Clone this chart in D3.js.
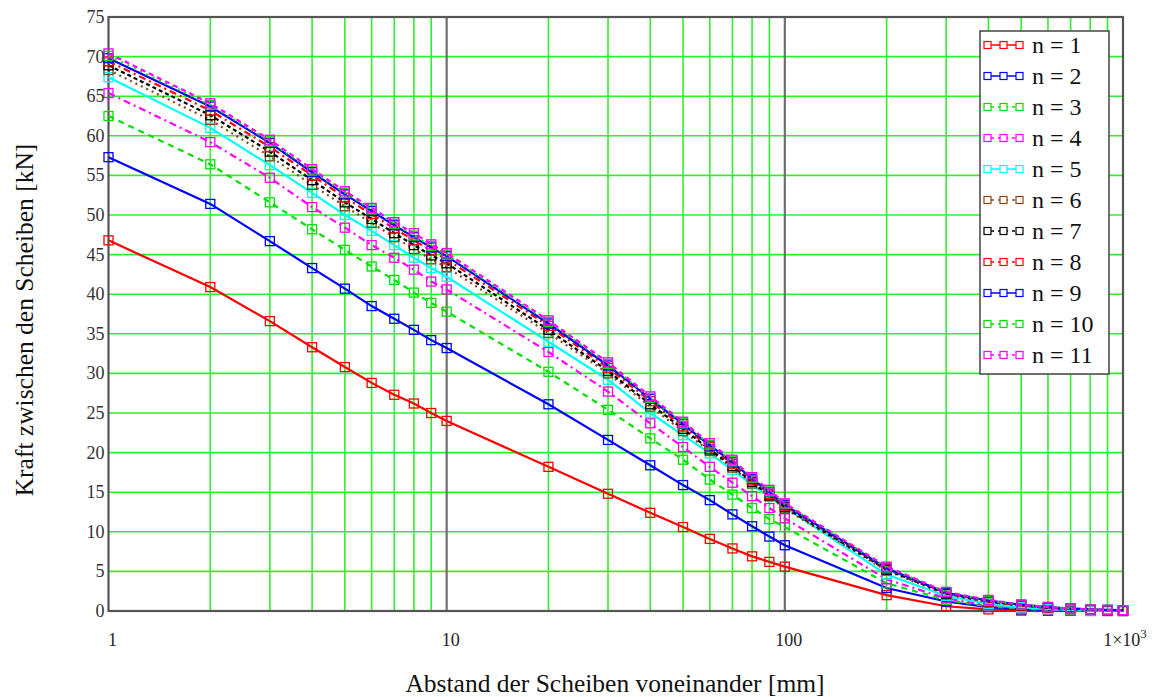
<!DOCTYPE html>
<html>
<head>
<meta charset="utf-8">
<script src="https://cdn.jsdelivr.net/npm/d3@7"></script>
<style>
  body { margin: 0; background: #fff; }
</style>
</head>
<body>
<div id="chart"></div>
<script>
// Abstand (mm) – Messpunkte
var distances = [1, 2, 3, 4, 5, 6, 7, 8, 9, 10, 20, 30, 40, 50, 60, 70, 80, 90,
  100, 200, 300, 400, 500, 600, 700, 800, 900, 1000];

// Kraft (kN) je Anzahl n
var n1 = [46.8, 40.9, 36.6, 33.3, 30.8, 28.8, 27.3, 26.2, 25.0, 24.0, 18.2, 14.8, 12.4, 10.6, 9.1, 7.9, 6.9, 6.2, 5.6, 2.0, 0.6, 0.2, 0.05, 0.02, 0.01, 0, 0, 0];
var n2 = [57.3, 51.4, 46.7, 43.3, 40.7, 38.5, 36.9, 35.5, 34.2, 33.2, 26.1, 21.6, 18.4, 15.9, 14.0, 12.2, 10.7, 9.4, 8.3, 2.9, 1.2, 0.5, 0.2, 0.1, 0.05, 0.02, 0.01, 0];
var n3 = [62.5, 56.4, 51.6, 48.2, 45.6, 43.5, 41.8, 40.2, 38.9, 37.8, 30.2, 25.4, 21.8, 19.1, 16.6, 14.7, 13.0, 11.6, 10.6, 3.5, 1.4, 0.6, 0.3, 0.15, 0.08, 0.04, 0.02, 0.01];
var n4 = [65.4, 59.2, 54.7, 51.0, 48.4, 46.2, 44.6, 43.1, 41.6, 40.6, 32.7, 27.7, 23.7, 20.7, 18.2, 16.2, 14.5, 13.0, 11.7, 4.0, 1.6, 0.7, 0.35, 0.2, 0.1, 0.06, 0.03, 0.02];
var n5 = [67.4, 61.0, 56.3, 52.8, 50.0, 48.0, 46.2, 44.6, 43.3, 42.2, 34.0, 29.2, 25.0, 22.2, 19.9, 17.8, 16.0, 14.4, 13.1, 4.6, 1.9, 0.9, 0.45, 0.25, 0.15, 0.08, 0.05, 0.03];
var n6 = [68.3, 62.0, 57.4, 53.8, 51.1, 49.0, 47.2, 45.7, 44.4, 43.4, 35.1, 30.0, 25.8, 22.7, 20.2, 18.1, 16.1, 14.5, 12.9, 5.1, 2.1, 1.1, 0.7, 0.4, 0.2, 0.15, 0.1, 0.1];
var n7 = [68.9, 62.6, 58.0, 54.4, 51.6, 49.5, 47.7, 46.2, 44.9, 43.9, 35.5, 30.3, 26.1, 23.0, 20.4, 18.3, 16.3, 14.6, 13.1, 5.2, 2.2, 1.2, 0.7, 0.4, 0.3, 0.2, 0.1, 0.1];
var n8 = [69.4, 63.2, 58.6, 55.0, 52.2, 50.1, 48.3, 46.8, 45.5, 44.4, 36.0, 30.7, 26.5, 23.3, 20.7, 18.6, 16.5, 14.8, 13.3, 5.3, 2.3, 1.2, 0.7, 0.4, 0.3, 0.2, 0.1, 0.1];
var n9 = [69.8, 63.7, 59.1, 55.4, 52.6, 50.5, 48.7, 47.2, 45.9, 44.8, 36.3, 31.0, 26.8, 23.6, 20.9, 18.8, 16.7, 15.0, 13.4, 5.4, 2.3, 1.3, 0.8, 0.5, 0.3, 0.2, 0.15, 0.1];
var n10 = [70.1, 63.9, 59.3, 55.6, 52.8, 50.7, 48.9, 47.4, 46.1, 45.0, 36.5, 31.2, 26.9, 23.7, 21.0, 18.9, 16.8, 15.1, 13.5, 5.5, 2.4, 1.3, 0.8, 0.5, 0.3, 0.2, 0.15, 0.1];
var n11 = [70.4, 64.1, 59.5, 55.8, 53.0, 50.9, 49.1, 47.7, 46.3, 45.2, 36.7, 31.4, 27.1, 23.9, 21.2, 19.1, 16.9, 15.3, 13.6, 5.6, 2.4, 1.4, 0.8, 0.5, 0.3, 0.2, 0.15, 0.1];

var seriesNames = ["n = 1", "n = 2", "n = 3", "n = 4", "n = 5", "n = 6", "n = 7", "n = 8", "n = 9", "n = 10", "n = 11"];
var seriesValues = [n1, n2, n3, n4, n5, n6, n7, n8, n9, n10, n11];
var seriesColors = ["#ff0000", "#0000ff", "#00e000", "#ff00ff", "#00ffff", "#8b4513", "#000000", "#ff0000", "#0000ff", "#00e000", "#ff00ff"];
var seriesDash = ["none", "none", "6,5", "7,4,2,4", "none", "2,4", "4,3", "7,4,2,4", "none", "2,5", "5,4"];

var yTicks = d3.range(0, 76, 5);
var xTicks = [1, 10, 100, 1000];
var xTickLabels = ["1", "10", "100", "1\u00d710"];

var width = 1161,
  height = 697,
  margin = { top: 17, right: 38, bottom: 86, left: 108.5 };

var serif = "'Liberation Serif', 'Times New Roman', 'DejaVu Serif', serif";

var svg = d3.select("#chart")
  .append("svg")
  .attr("width", width)
  .attr("height", height)
  .attr("font-family", serif);

var x = d3.scaleLog()
  .domain([1, 1000])
  .range([margin.left, width - margin.right]);

var y = d3.scaleLinear()
  .domain([0, 75])
  .range([height - margin.bottom, margin.top]);

// Gitterlinien
var minorX = [];
[1, 10, 100].forEach(function (dec) {
  for (var k = 2; k <= 9; k++) minorX.push(dec * k);
});

svg.append("g")
  .selectAll("line")
  .data(minorX)
  .enter()
  .append("line")
  .attr("x1", function (d) { return x(d); })
  .attr("x2", function (d) { return x(d); })
  .attr("y1", y(0))
  .attr("y2", y(75))
  .style("stroke", "#2ef02e")
  .style("stroke-width", 1.6);

svg.append("g")
  .selectAll("line")
  .data(yTicks.slice(1, -1))
  .enter()
  .append("line")
  .attr("x1", x(1))
  .attr("x2", x(1000))
  .attr("y1", function (d) { return y(d); })
  .attr("y2", function (d) { return y(d); })
  .style("stroke", "#2ef02e")
  .style("stroke-width", 1.6);

svg.append("g")
  .selectAll("line")
  .data([10, 100])
  .enter()
  .append("line")
  .attr("x1", function (d) { return x(d); })
  .attr("x2", function (d) { return x(d); })
  .attr("y1", y(0))
  .attr("y2", y(75))
  .style("stroke", "#6e6e6e")
  .style("stroke-width", 2.2);

// Rahmen
svg.append("rect")
  .attr("x", x(1))
  .attr("y", y(75))
  .attr("width", x(1000) - x(1))
  .attr("height", y(0) - y(75))
  .style("fill", "none")
  .style("stroke", "#555")
  .style("stroke-width", 2.2);

// Kurven
var line = d3.line()
  .x(function (d) { return x(d[0]); })
  .y(function (d) { return y(d[1]); });

seriesValues.forEach(function (vals, i) {
  var pts = distances.map(function (d, j) { return [d, vals[j]]; });
  var g = svg.append("g");
  g.append("path")
    .datum(pts)
    .attr("d", line)
    .style("fill", "none")
    .style("stroke", seriesColors[i])
    .style("stroke-width", 2.2)
    .style("stroke-dasharray", seriesDash[i]);
  g.selectAll("rect")
    .data(pts)
    .enter()
    .append("rect")
    .attr("x", function (d) { return x(d[0]) - 4.5; })
    .attr("y", function (d) { return y(d[1]) - 4.5; })
    .attr("width", 9)
    .attr("height", 9)
    .style("fill", "none")
    .style("stroke", seriesColors[i])
    .style("stroke-width", 1.3);
});

// Achsenbeschriftung
svg.append("g")
  .selectAll("text")
  .data(yTicks)
  .enter()
  .append("text")
  .attr("x", x(1) - 4)
  .attr("y", function (d) { return y(d) + 6; })
  .attr("text-anchor", "end")
  .attr("font-size", 18)
  .attr("fill", "#333")
  .text(function (d) { return d; });

var xt = svg.append("g")
  .selectAll("text")
  .data(xTicks)
  .enter()
  .append("text")
  .attr("x", function (d) { return x(d) + 4; })
  .attr("y", 646)
  .attr("text-anchor", "middle")
  .attr("font-size", 18)
  .attr("fill", "#222")
  .text(function (d, i) { return xTickLabels[i]; });
xt.filter(function (d) { return d === 1000; })
  .attr("x", x(1000) + 2)
  .append("tspan")
  .attr("dy", -8)
  .attr("font-size", 13)
  .text("3");

svg.append("text")
  .attr("x", 615)
  .attr("y", 692)
  .attr("text-anchor", "middle")
  .attr("font-size", 25.5)
  .attr("fill", "#111")
  .text("Abstand der Scheiben voneinander [mm]");

svg.append("text")
  .attr("transform", "translate(33,320)rotate(-90)")
  .attr("text-anchor", "middle")
  .attr("font-size", 25.5)
  .attr("fill", "#111")
  .text("Kraft zwischen den Scheiben [kN]");

// Legende
var legend = svg.append("g").attr("transform", "translate(980,31)");
legend.append("rect")
  .attr("width", 129)
  .attr("height", 343)
  .style("fill", "#fff")
  .style("stroke", "#444")
  .style("stroke-width", 1.5);

var item = legend.selectAll("g.item")
  .data(seriesNames)
  .enter()
  .append("g")
  .attr("class", "item")
  .attr("transform", function (d, i) { return "translate(0," + (14 + i * 31) + ")"; });

item.append("line")
  .attr("x1", 4)
  .attr("x2", 42)
  .style("stroke", function (d, i) { return seriesColors[i]; })
  .style("stroke-width", 1.5)
  .style("stroke-dasharray", function (d, i) { return seriesDash[i] === "none" ? "none" : "3,4"; });

item.selectAll("rect")
  .data(function (d, i) { return [0, 1, 2].map(function (k) { return { k: k, c: seriesColors[i] }; }); })
  .enter()
  .append("rect")
  .attr("x", function (d) { return 4 + d.k * 16; })
  .attr("y", -3.5)
  .attr("width", 7)
  .attr("height", 7)
  .style("fill", "#fff")
  .style("stroke", function (d) { return d.c; })
  .style("stroke-width", 1.2);

item.append("text")
  .attr("x", 52)
  .attr("y", 8)
  .attr("font-size", 24)
  .attr("fill", "#111")
  .text(function (d) { return d; });
</script>
</body>
</html>
